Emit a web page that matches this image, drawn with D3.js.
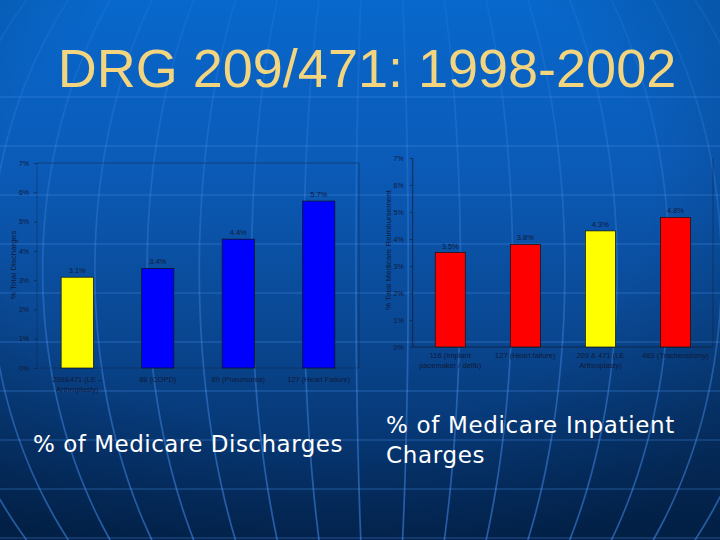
<!DOCTYPE html>
<html><head><meta charset="utf-8">
<script src="https://cdn.jsdelivr.net/npm/d3@7"></script>
<style>html,body{margin:0;padding:0;background:#0a4fa0;}svg{display:block;}</style>
</head><body>
<script>
// ---- data ----
const title = "DRG 209/471: 1998-2002";
const leftCategories = [["209&471 (LE –", "Arthroplasty)"], ["88 (COPD)"], ["89 (Pneumonia)"], ["127 (Heart Failure)"]];
const leftValues = [3.1, 3.4, 4.4, 5.7];
const leftColors = ["#ffff00", "#0000ff", "#0000ff", "#0000ff"];
const leftYLabel = "% Total Discharges";
const leftSubtitle = ["% of Medicare Discharges"];

const rightCategories = [["116 (Implant", "pacemaker / defib)"], ["127 (Heart failure)"], ["209 & 471 (LE", "Arthroplasty)"], ["483 (Tracheostomy)"]];
const rightValues = [3.5, 3.8, 4.3, 4.8];
const rightColors = ["#ff0000", "#ff0000", "#ffff00", "#ff0000"];
const rightYLabel = "% Total Medicare Reimbursement";
const rightSubtitle = ["% of Medicare Inpatient", "Charges"];

const yTicks = [0, 1, 2, 3, 4, 5, 6, 7];

const W = 720, H = 540;
const svg = d3.select("body").append("svg").attr("width", W).attr("height", H);

// ---- background ----
const defs = svg.append("defs");
const g1 = defs.append("linearGradient").attr("id", "bg").attr("x1", 0).attr("y1", 0).attr("x2", 0).attr("y2", 1);
g1.append("stop").attr("offset", "0%").attr("stop-color", "#0868cc");
g1.append("stop").attr("offset", "30%").attr("stop-color", "#0b5bb8");
g1.append("stop").attr("offset", "60%").attr("stop-color", "#0a4893");
g1.append("stop").attr("offset", "100%").attr("stop-color", "#03295a");
svg.append("rect").attr("width", W).attr("height", H).attr("fill", "url(#bg)");
const rg = defs.append("radialGradient").attr("id", "vig").attr("cx", "45%").attr("cy", "35%").attr("r", "75%");
rg.append("stop").attr("offset", "60%").attr("stop-color", "#000").attr("stop-opacity", 0);
rg.append("stop").attr("offset", "100%").attr("stop-color", "#000").attr("stop-opacity", 0.25);
svg.append("rect").attr("width", W).attr("height", H).attr("fill", "url(#vig)");
const mg = defs.append("linearGradient").attr("id", "mer").attr("gradientUnits", "userSpaceOnUse")
  .attr("x1", 0).attr("y1", 0).attr("x2", 0).attr("y2", H);
mg.append("stop").attr("offset", "0%").attr("stop-color", "#5aa0ff").attr("stop-opacity", 0.1);
mg.append("stop").attr("offset", "45%").attr("stop-color", "#5aa0ff").attr("stop-opacity", 0.25);
mg.append("stop").attr("offset", "100%").attr("stop-color", "#4a96ff").attr("stop-opacity", 0.5);

const bgG = svg.append("g");
// latitude lines
d3.range(0, 10).map(k => 97 + 49 * k).filter(y => y > 0 && y < H).forEach(y => {
  bgG.append("line").attr("x1", 0).attr("x2", W).attr("y1", y).attr("y2", y)
    .attr("stroke", "#4a90e8").attr("stroke-opacity", 0.3).attr("stroke-width", 1.5);
});
// meridians (ellipse arcs)
const cx = 380, cy = 270, R = 450;
const s400 = Math.sqrt(1 - Math.pow((400 - cy) / R, 2));
const mline = d3.line().curve(d3.curveBasis);
d3.range(-1, 16).map(k => 7 + 50 * k).forEach(x400 => {
  const a = (x400 - cx) / s400;
  const pts = d3.range(0, H + 1, 10).map(y => [cx + a * Math.sqrt(1 - Math.pow((y - cy) / R, 2)), y]);
  bgG.append("path").attr("d", mline(pts)).attr("fill", "none")
    .attr("stroke", "url(#mer)").attr("stroke-width", 1.7);
});

// ---- title ----
svg.append("text").attr("x", 367).attr("y", 87).attr("text-anchor", "middle")
  .attr("font-family", "Liberation Sans, Arial, sans-serif").attr("font-size", 54)
  .attr("fill", "#f3d580").text(title);

// ---- chart builder ----
function chart(cfg) {
  const g = svg.append("g");
  const x = d3.scaleBand().domain(d3.range(cfg.values.length)).range([cfg.x0, cfg.x1])
    .paddingInner(0.6).paddingOuter(0.3);
  const y = d3.scaleLinear().domain([0, 7]).range([cfg.yb, cfg.yt]);
  const txt = "#101a3a";
  // frame
  g.append("line").attr("x1", cfg.x0).attr("x2", cfg.x0).attr("y1", cfg.yt).attr("y2", cfg.yb)
    .attr("stroke", "#10203a").attr("stroke-opacity", cfg.axisOp).attr("stroke-width", 1);
  g.append("line").attr("x1", cfg.x0).attr("x2", cfg.x1).attr("y1", cfg.yb).attr("y2", cfg.yb)
    .attr("stroke", "#10203a").attr("stroke-opacity", cfg.axisOp).attr("stroke-width", 1);
  g.append("line").attr("x1", cfg.x1).attr("x2", cfg.x1).attr("y1", cfg.yt).attr("y2", cfg.yb)
    .attr("stroke", "#10203a").attr("stroke-opacity", 0.45).attr("stroke-width", 1);
  if (cfg.topBorder) {
    g.append("line").attr("x1", cfg.x0).attr("x2", cfg.x1).attr("y1", cfg.yt).attr("y2", cfg.yt)
      .attr("stroke", "#1a3050").attr("stroke-opacity", 0.6).attr("stroke-width", 1.2);
  }
  // y axis
  const ya = g.append("g").attr("transform", `translate(${cfg.x0},0)`)
    .call(d3.axisLeft(y).tickValues(yTicks).tickFormat(d => d + "%").tickSize(3).tickPadding(cfg.tickPad));
  ya.select(".domain").remove();
  ya.selectAll("line").attr("stroke", "#10203a").attr("stroke-opacity", 0.6);
  ya.selectAll("text").attr("fill", txt).attr("font-size", 7).attr("font-family", "Liberation Sans, Arial, sans-serif");
  // bars
  g.selectAll("rect.bar").data(cfg.values).join("rect").attr("class", "bar")
    .attr("x", (d, i) => x(i)).attr("width", x.bandwidth())
    .attr("y", d => y(d)).attr("height", d => y(0) - y(d))
    .attr("fill", (d, i) => cfg.colors[i]).attr("stroke", "#111").attr("stroke-width", 0.7);
  // value labels
  g.selectAll("text.val").data(cfg.values).join("text").attr("class", "val")
    .attr("x", (d, i) => x(i) + x.bandwidth() / 2).attr("y", d => y(d) - 4)
    .attr("text-anchor", "middle").attr("font-size", 7.5).attr("fill", txt)
    .attr("font-family", "Liberation Sans, Arial, sans-serif").text(d => d.toFixed(1) + "%");
  // category labels
  cfg.cats.forEach((lines, i) => {
    const t = g.append("text").attr("x", x(i) + x.bandwidth() / 2).attr("y", cfg.yb + cfg.catDy)
      .attr("text-anchor", "middle").attr("font-size", 7.5).attr("fill", txt)
      .attr("font-family", "Liberation Sans, Arial, sans-serif");
    lines.forEach((l, j) => t.append("tspan").attr("x", x(i) + x.bandwidth() / 2).attr("dy", j === 0 ? 0 : 10).text(l));
  });
  // y label
  g.append("text").attr("transform", `translate(${cfg.ylx},${cfg.yly}) rotate(-90)`)
    .attr("text-anchor", "middle").attr("font-size", 8).attr("fill", txt)
    .attr("font-family", "Liberation Sans, Arial, sans-serif").text(cfg.ylabel);
  // subtitle
  const st = svg.append("text").attr("x", cfg.sx).attr("y", cfg.sy)
    .attr("font-family", "DejaVu Sans, Verdana, sans-serif").attr("font-size", 23)
    .attr("letter-spacing", cfg.ls).attr("fill", "#ffffff");
  cfg.sub.forEach((l, j) => st.append("tspan").attr("x", cfg.sx).attr("dy", j === 0 ? 0 : 30).text(l));
}

chart({ values: leftValues, colors: leftColors, cats: leftCategories, x0: 37, x1: 359, yt: 163, yb: 368,
  topBorder: true, axisOp: 0.35, tickPad: 5, catDy: 14, ylabel: leftYLabel, ylx: 16, yly: 265,
  sub: leftSubtitle, sx: 33, sy: 452, ls: 0.5 });
chart({ values: rightValues, colors: rightColors, cats: rightCategories, x0: 412.7, x1: 713, yt: 158, yb: 347,
  topBorder: false, axisOp: 0.8, tickPad: 6, catDy: 11, ylabel: rightYLabel, ylx: 391, yly: 250,
  sub: rightSubtitle, sx: 386, sy: 433, ls: 0.65 });
</script>
</body></html>
